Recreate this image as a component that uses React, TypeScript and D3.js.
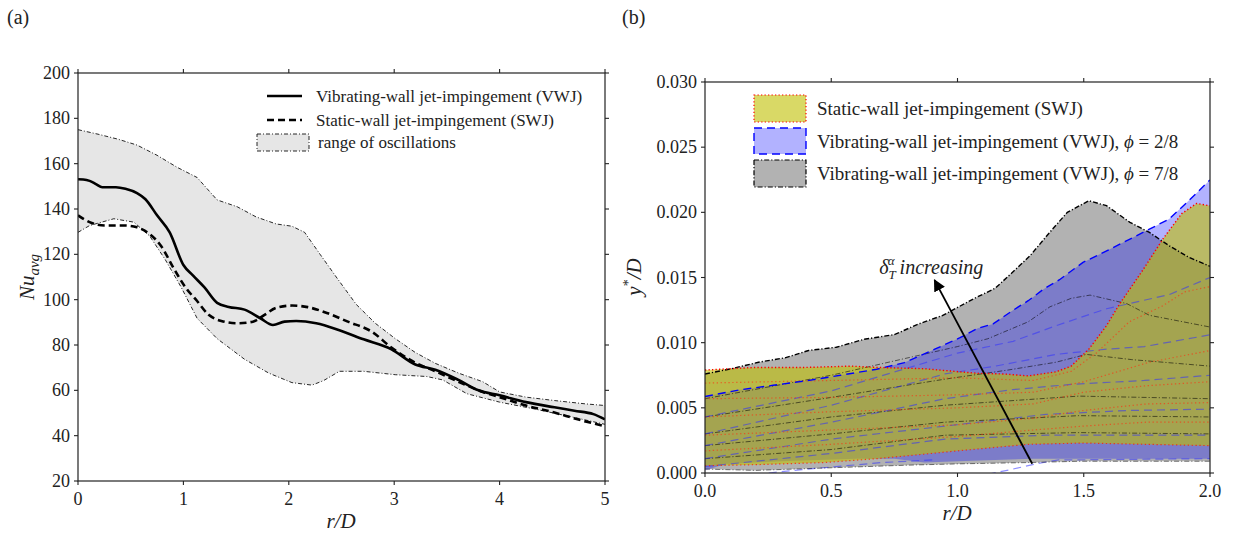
import React from 'react';
import * as d3 from 'd3';

type P = [number, number];

// ---------- Panel (a) data ----------
const xTicksA = [0, 1, 2, 3, 4, 5];
const yTicksA = [20, 40, 60, 80, 100, 120, 140, 160, 180, 200];

const vwjNu: P[] = [
  [0, 153.1], [0.05, 153], [0.11, 152.4], [0.17, 151], [0.23, 149.6], [0.36, 149.6], [0.45, 148.9],
  [0.56, 147], [0.64, 144.3], [0.75, 137.2], [0.87, 129.7], [1.0, 115.3], [1.09, 110.7], [1.2, 105.4],
  [1.32, 98.6], [1.43, 96.8], [1.58, 95.6], [1.73, 91.8], [1.85, 88.8], [1.96, 90.3], [2.07, 90.6],
  [2.26, 89.6], [2.48, 86.5], [2.71, 82.5], [2.97, 78.2], [3.2, 71.4], [3.39, 69.1], [3.61, 64.6],
  [3.8, 60], [4.0, 57.8], [4.25, 54.8], [4.52, 52.5], [4.71, 51], [4.89, 49.5], [5, 47.2],
];
const swjNu: P[] = [
  [0, 137.2], [0.11, 134.2], [0.26, 132.7], [0.45, 132.7], [0.56, 131.9], [0.68, 128.9], [0.79, 123.6],
  [0.9, 114.5], [1.02, 105.4], [1.13, 99.4], [1.24, 93.3], [1.36, 90.6], [1.51, 89.6], [1.66, 90.3],
  [1.77, 93.3], [1.88, 96.4], [2.03, 97.4], [2.18, 96.7], [2.37, 94], [2.56, 90.3], [2.79, 85.8],
  [2.97, 79], [3.2, 72.2], [3.39, 68.4], [3.61, 63.8], [3.84, 59.3], [4, 57], [4.25, 53.3],
  [4.52, 50.2], [4.74, 47.2], [5, 44.2],
];
const oscUpper: P[] = [
  [0, 175], [0.19, 173], [0.38, 170.8], [0.56, 168.2], [0.75, 163.7], [0.94, 158.4], [1.13, 153.9],
  [1.32, 144], [1.51, 141], [1.69, 136.5], [1.88, 133.4], [2.03, 132.4], [2.15, 129.7], [2.3, 119.8],
  [2.45, 110], [2.64, 97.9], [2.82, 89.6], [3.01, 82.8], [3.2, 76.7], [3.39, 71.9], [3.61, 67.6],
  [3.84, 63.8], [4, 59.3], [4.25, 57], [4.52, 55.5], [4.82, 54], [5, 53.3],
];
const oscLower: P[] = [
  [0, 129.7], [0.11, 132.7], [0.34, 135.7], [0.53, 134.2], [0.68, 128.1], [0.83, 117.5], [0.98, 105.4],
  [1.13, 91.8], [1.32, 82.8], [1.58, 73.7], [1.81, 67.6], [2.03, 63.4], [2.22, 62.3], [2.33, 64.3],
  [2.48, 68.4], [2.71, 68.4], [3.01, 66.9], [3.31, 66.1], [3.46, 64.6], [3.69, 58.5], [4, 54.8],
  [4.33, 51.8], [4.71, 48], [5, 45],
];

// ---------- Panel (b) data ----------
const xTicksB = [0, 0.5, 1.0, 1.5, 2.0];
const yTicksB = [0, 0.005, 0.01, 0.015, 0.02, 0.025, 0.03];

const grey78Upper: P[] = [
  [0, 0.0076], [0.104, 0.008], [0.212, 0.0085], [0.32, 0.00885], [0.41, 0.0094], [0.52, 0.00965],
  [0.63, 0.01026], [0.75, 0.01062], [0.847, 0.01144], [0.94, 0.01208], [1.0, 0.0127], [1.063, 0.01336],
  [1.149, 0.01417], [1.218, 0.0154], [1.288, 0.01668], [1.365, 0.01846], [1.435, 0.02], [1.52, 0.02089],
  [1.59, 0.02051], [1.683, 0.01923], [1.76, 0.01846], [1.838, 0.01744], [1.916, 0.01655], [2.0, 0.01586],
];
const grey78Lower: P[] = [
  [0, 0.0003], [0.2, 0.0002], [0.5, 0.0004], [0.8, 0.0006], [1.0, 0.0007], [1.28, 0.0008], [1.48, 0.0009], [2.0, 0.0009],
];
const blue28Upper: P[] = [
  [0, 0.00587], [0.137, 0.00638], [0.27, 0.00673], [0.4, 0.00707], [0.536, 0.0075], [0.68, 0.00796],
  [0.79, 0.00847], [0.91, 0.0095], [1.01, 0.01038], [1.08, 0.0111], [1.141, 0.01144], [1.218, 0.01246],
  [1.28, 0.01322], [1.342, 0.01412], [1.404, 0.01483], [1.497, 0.01616], [1.605, 0.01718], [1.683, 0.01795],
  [1.76, 0.01871], [1.838, 0.01948], [1.915, 0.02088], [2.0, 0.02249],
];
const blue28Lower: P[] = [
  [0, 0.0002], [0.08, 0.0007], [0.3, 0.0009], [0.6, 0.0011], [0.75, 0.0011], [0.87, 0.0008], [1.0, 0.0009], [1.3, 0.0011], [2.0, 0.0011],
];
const swjUpper: P[] = [
  [0, 0.0079], [0.2, 0.0081], [0.4, 0.0081], [0.58, 0.0082], [0.68, 0.0081], [0.87, 0.008], [1.01, 0.00776],
  [1.08, 0.00765], [1.18, 0.0076], [1.28, 0.00745], [1.39, 0.00776], [1.45, 0.0082], [1.52, 0.0095],
  [1.59, 0.0113], [1.643, 0.013], [1.735, 0.0156], [1.815, 0.018], [1.888, 0.0199], [1.947, 0.02068], [2.0, 0.0205],
];
const swjLower: P[] = [
  [0, 0.00056], [0.2, 0.00064], [0.47, 0.0008], [0.68, 0.0011], [0.87, 0.00145], [1.0, 0.0017], [1.28, 0.0022], [1.5, 0.0023], [2.0, 0.0021],
];

const swjInner: P[][] = [
  [[0, 0.0069], [0.5, 0.0071], [1.0, 0.0073], [1.3, 0.0071], [1.45, 0.0078], [1.55, 0.0092], [1.68, 0.0116], [1.81, 0.0128], [1.9, 0.0139], [2.0, 0.0143]],
  [[0, 0.0057], [0.5, 0.0058], [1.0, 0.006], [1.3, 0.0062], [1.5, 0.007], [1.76, 0.0085], [2.0, 0.0094]],
  [[0, 0.0043], [0.5, 0.0047], [1.0, 0.005], [1.3, 0.0053], [1.5, 0.0062], [1.75, 0.0067], [2.0, 0.007]],
  [[0, 0.0029], [0.5, 0.0033], [1.0, 0.0037], [1.3, 0.0042], [1.5, 0.0048], [1.75, 0.0053], [2.0, 0.0054]],
  [[0, 0.0017], [0.5, 0.0022], [1.0, 0.0028], [1.3, 0.0033], [1.5, 0.0036], [1.75, 0.0039], [2.0, 0.0039]],
];
const blueInner: P[][] = [
  [[0, 0.0043], [0.5, 0.0063], [1.0, 0.0092], [1.22, 0.0101], [1.39, 0.0113], [1.59, 0.0126], [1.84, 0.0137], [2.0, 0.015]],
  [[0, 0.003], [0.5, 0.0052], [0.95, 0.0076], [1.15, 0.0082], [1.39, 0.0091], [1.59, 0.0095], [1.74, 0.0097], [2.0, 0.0106]],
  [[0, 0.0021], [0.5, 0.0039], [0.95, 0.0057], [1.22, 0.0064], [1.45, 0.0068], [1.74, 0.0071], [2.0, 0.0075]],
  [[0, 0.0011], [0.5, 0.0026], [0.95, 0.0036], [1.35, 0.0045], [1.68, 0.0048], [2.0, 0.0049]],
  [[0, 0.0005], [0.5, 0.0015], [0.95, 0.0026], [1.35, 0.0029], [2.0, 0.0029]],
  [[0.15, -0.0002], [0.385, 0.00026], [0.7, 0.0008], [0.9, 0.001]],
  [[1.12, -0.0001], [1.21, 0.00026], [1.31, 0.0007], [1.4, 0.001], [2.0, 0.0011]],
];
const greyInner: P[][] = [
  [[0, 0.0057], [0.5, 0.0075], [1.0, 0.0097], [1.12, 0.0103], [1.28, 0.0116], [1.366, 0.01275], [1.45, 0.0134], [1.525, 0.01365], [1.67, 0.013], [1.76, 0.0121], [2.0, 0.0112]],
  [[0, 0.0043], [0.5, 0.0058], [0.95, 0.0072], [1.2, 0.0079], [1.39, 0.0085], [1.51, 0.0091], [1.69, 0.0087], [2.0, 0.0082]],
  [[0, 0.003], [0.5, 0.0043], [0.95, 0.0052], [1.48, 0.0059], [2.0, 0.0057]],
  [[0, 0.0021], [0.5, 0.003], [0.95, 0.0039], [1.48, 0.0044], [2.0, 0.0043]],
  [[0, 0.0011], [0.5, 0.0018], [0.95, 0.0029], [1.48, 0.0031], [2.0, 0.003]],
];
const arrowPts: P[] = [[1.296, 0.00071], [0.909, 0.0148]];
const annotPos: P = [0.69, 0.0153];

const SERIF = '"Liberation Serif", "DejaVu Serif", serif';
const AX = '#222';

export default function App() {
  const xa = d3.scaleLinear().domain([0, 5]).range([78, 605]);
  const ya = d3.scaleLinear().domain([20, 200]).range([481, 73]);
  const xb = d3.scaleLinear().domain([0, 2]).range([705, 1210]);
  const yb = d3.scaleLinear().domain([0, 0.03]).range([473, 82]);

  const lineA = d3.line<P>().x(d => xa(d[0])).y(d => ya(d[1])).curve(d3.curveMonotoneX);
  const edgeA = d3.line<P>().x(d => xa(d[0])).y(d => ya(d[1]));
  const lineB = d3.line<P>().x(d => xb(d[0])).y(d => yb(d[1]));
  const bandA = (u: P[], l: P[]) => edgeA(u.concat(l.slice().reverse())) + 'Z';
  const bandB = (u: P[], l: P[]) => lineB(u.concat(l.slice().reverse())) + 'Z';

  const fmtB = d3.format('.3f');
  const fmtBx = d3.format('.1f');
  const tl = 4;

  const axesFrame = (x: d3.ScaleLinear<number, number>, y: d3.ScaleLinear<number, number>, xt: number[], yt: number[], fx: (v: number) => string, fy: (v: number) => string, key: string) => {
    const [x0, x1] = x.range();
    const [y0, y1] = y.range();
    return (
      <g key={key}>
        <rect x={x0} y={y1} width={x1 - x0} height={y0 - y1} fill="none" stroke={AX} strokeWidth={1.2} />
        {xt.map(v => (
          <g key={'x' + v}>
            <line x1={x(v)} x2={x(v)} y1={y0} y2={y0 + tl} stroke={AX} strokeWidth={1.1} />
            <line x1={x(v)} x2={x(v)} y1={y1} y2={y1 - tl} stroke={AX} strokeWidth={1.1} />
            <text x={x(v)} y={y0 + 24} textAnchor="middle" fontFamily={SERIF} fontSize={18} fill="#222">{fx(v)}</text>
          </g>
        ))}
        {yt.map(v => (
          <g key={'y' + v}>
            <line x1={x0} x2={x0 - tl} y1={y(v)} y2={y(v)} stroke={AX} strokeWidth={1.1} />
            <line x1={x1} x2={x1 + tl} y1={y(v)} y2={y(v)} stroke={AX} strokeWidth={1.1} />
            <text x={x0 - 8} y={y(v) + 6} textAnchor="end" fontFamily={SERIF} fontSize={18} fill="#222">{fy(v)}</text>
          </g>
        ))}
      </g>
    );
  };

  const [ax0, ax1] = xa.range();
  const [ay0, ay1] = ya.range();
  const [bx0, bx1] = xb.range();
  const [by0, by1] = yb.range();

  return (
    <svg width={1235} height={537} style={{ position: 'absolute', left: 0, top: 0, background: '#fff' }}>
      <defs>
        <clipPath id="clipA"><rect x={ax0} y={ay1} width={ax1 - ax0} height={ay0 - ay1} /></clipPath>
        <clipPath id="clipB"><rect x={bx0} y={by1} width={bx1 - bx0} height={by0 - by1} /></clipPath>
        <marker id="arrowHead" viewBox="0 0 10 10" refX={9} refY={5} markerWidth={12} markerHeight={12} markerUnits="userSpaceOnUse" orient="auto">
          <path d="M0,0 L10,5 L0,10 Z" fill="#000" />
        </marker>
      </defs>

      {/* Panel labels */}
      <text x={7} y={24} fontFamily={SERIF} fontSize={20} fill="#222">(a)</text>
      <text x={622} y={24} fontFamily={SERIF} fontSize={20} fill="#222">(b)</text>

      {/* ---------- Panel (a) ---------- */}
      <g clipPath="url(#clipA)">
        <path d={bandA(oscUpper, oscLower)} fill="#e6e6e6" stroke="none" />
        <path d={edgeA(oscUpper) || ''} fill="none" stroke="#111" strokeWidth={0.9} strokeDasharray="4,2,1,2" />
        <path d={edgeA(oscLower) || ''} fill="none" stroke="#111" strokeWidth={0.9} strokeDasharray="4,2,1,2" />
        <path d={lineA(swjNu) || ''} fill="none" stroke="#000" strokeWidth={2.6} strokeDasharray="7,4" />
        <path d={lineA(vwjNu) || ''} fill="none" stroke="#000" strokeWidth={2.6} />
      </g>
      {axesFrame(xa, ya, xTicksA, yTicksA, v => String(v), v => String(v), 'fa')}

      {/* legend (a) */}
      <g fontFamily={SERIF} fontSize={17} fill="#222">
        <line x1={267} x2={302} y1={96} y2={96} stroke="#000" strokeWidth={2.6} />
        <text x={316} y={102}>Vibrating-wall jet-impingement (VWJ)</text>
        <line x1={267} x2={302} y1={120} y2={120} stroke="#000" strokeWidth={2.6} strokeDasharray="7,4" />
        <text x={316} y={126}>Static-wall jet-impingement (SWJ)</text>
        <rect x={257} y={134} width={52} height={17} fill="#e6e6e6" stroke="#111" strokeWidth={0.9} strokeDasharray="4,2,1,2" />
        <text x={318} y={148}>range of oscillations</text>
      </g>

      {/* axis labels (a) */}
      <text x={341} y={528} textAnchor="middle" fontFamily={SERIF} fontSize={21} fontStyle="italic" fill="#222">r/D</text>
      <text transform="translate(34,277) rotate(-90)" textAnchor="middle" fontFamily={SERIF} fontSize={21} fill="#222">
        <tspan fontStyle="italic">Nu</tspan><tspan fontStyle="italic" fontSize={15} dy={5}>avg</tspan>
      </text>

      {/* ---------- Panel (b) ---------- */}
      <g clipPath="url(#clipB)">
        <path d={bandB(grey78Upper, grey78Lower)} fill="#000" fillOpacity={0.3} stroke="none" />
        <path d={bandB(blue28Upper, blue28Lower)} fill="#0000ff" fillOpacity={0.3} stroke="none" />
        <path d={bandB(swjUpper, swjLower)} fill="#bfbf00" fillOpacity={0.6} stroke="none" />

        {greyInner.map((l, i) => (
          <path key={'gi' + i} d={lineB(l) || ''} fill="none" stroke="#000" strokeOpacity={0.55} strokeWidth={1} strokeDasharray="5,2,1.2,2" />
        ))}
        {blueInner.map((l, i) => (
          <path key={'bi' + i} d={lineB(l) || ''} fill="none" stroke="#3030ff" strokeOpacity={0.55} strokeWidth={1.2} strokeDasharray="8,5" />
        ))}
        {swjInner.map((l, i) => (
          <path key={'si' + i} d={lineB(l) || ''} fill="none" stroke="#ff3010" strokeOpacity={0.65} strokeWidth={1.2} strokeDasharray="1.3,2.6" />
        ))}

        <path d={lineB(grey78Upper) || ''} fill="none" stroke="#000" strokeWidth={1.4} strokeDasharray="5,2,1.2,2" />
        <path d={lineB(grey78Lower) || ''} fill="none" stroke="#000" strokeOpacity={0.5} strokeWidth={1} strokeDasharray="5,2,1.2,2" />
        <path d={lineB(blue28Upper) || ''} fill="none" stroke="#0000ff" strokeWidth={1.4} strokeDasharray="8,5" />
        <path d={lineB(swjUpper) || ''} fill="none" stroke="#ff0000" strokeWidth={1.4} strokeDasharray="1.3,2.2" />
        <path d={lineB(swjLower) || ''} fill="none" stroke="#ff2000" strokeOpacity={0.8} strokeWidth={1.2} strokeDasharray="1.3,2.6" />

        <path d={lineB(arrowPts) || ''} fill="none" stroke="#000" strokeWidth={1.8} markerEnd="url(#arrowHead)" />
      </g>
      {axesFrame(xb, yb, xTicksB, yTicksB, v => fmtBx(v), v => fmtB(v), 'fb')}

      {/* annotation */}
      <text x={xb(annotPos[0])} y={yb(annotPos[1])} fontFamily={SERIF} fontSize={20} fontStyle="italic" fill="#222">
        <tspan>δ</tspan>
        <tspan fontSize={13} dy={5}>T</tspan>
        <tspan fontSize={13} dx={-8} dy={-14}>α</tspan>
        <tspan dy={9}> increasing</tspan>
      </text>

      {/* legend (b) */}
      <g fontFamily={SERIF} fontSize={19} fill="#222">
        <rect x={754} y={95} width={52} height={27} fill="#bfbf00" fillOpacity={0.6} stroke="#ff0000" strokeWidth={1.2} strokeDasharray="1.3,2.2" />
        <text x={817} y={115}>Static-wall jet-impingement (SWJ)</text>
        <rect x={754} y={128} width={52} height={26} fill="#0000ff" fillOpacity={0.3} stroke="#0000ff" strokeWidth={1.4} strokeDasharray="8,5" />
        <text x={817} y={147.5}>Vibrating-wall jet-impingement (VWJ), <tspan fontStyle="italic">ϕ</tspan> = 2/8</text>
        <rect x={754} y={160} width={52} height={27} fill="#000" fillOpacity={0.3} stroke="#000" strokeWidth={1.2} strokeDasharray="5,2,1.2,2" />
        <text x={817} y={180}>Vibrating-wall jet-impingement (VWJ), <tspan fontStyle="italic">ϕ</tspan> = 7/8</text>
      </g>

      {/* axis labels (b) */}
      <text x={957} y={520} textAnchor="middle" fontFamily={SERIF} fontSize={21} fontStyle="italic" fill="#222">r/D</text>
      <text transform="translate(641,277) rotate(-90)" textAnchor="middle" fontFamily={SERIF} fontSize={21} fill="#222">
        <tspan fontStyle="italic">y</tspan><tspan fontSize={14} dy={-8}>*</tspan><tspan dy={8} fontStyle="italic">/D</tspan>
      </text>
    </svg>
  );
}
